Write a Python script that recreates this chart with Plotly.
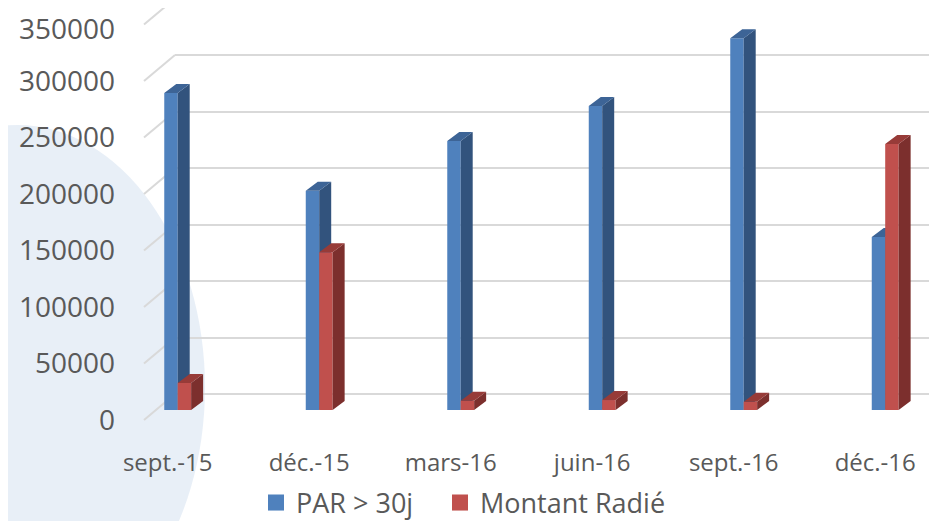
import plotly.graph_objects as go

# ---------------- data ----------------
categories = ["sept.-15", "déc.-15", "mars-16", "juin-16", "sept.-16", "déc.-16"]
par_30j = [280500, 194000, 238000, 269000, 329000, 153000]
montant_radie = [24000, 139500, 8200, 8800, 7300, 235500]
y_ticks = [0, 50000, 100000, 150000, 200000, 250000, 300000, 350000]

# ---------------- styling / geometry ----------------
OFF = 8                        # page body margin
W, H = 937 - OFF, 521 - OFF
FONT = "Open Sans"
TXT = "#595959"
K = 339 / 300000.0             # px per value unit
PX_PER_CAT = 141.5
BAR_CENTER0 = 177.7            # window px of first group centre
BAR_W = 0.095                  # front face width (category units)
DX = 12 / PX_PER_CAT           # depth offset, x
DY = 9 / K                     # depth offset, y (value units)

BLUE = dict(front="#4F81BD", side="#32537D", top="#3D6496")
RED = dict(front="#C0504D", side="#7C2F2D", top="#973B38")


def fx(X):
    return (X - OFF) / W


def fy(Y):
    return 1 - (Y - OFF) / H


def yrange(y0_px):
    return [-(H - (y0_px - OFF)) / K, (y0_px - OFF) / K]


xs = list(range(len(categories)))
low_ticks = y_ticks[:-1]
top_tick = y_ticks[-1:]

fig = go.Figure()

for yax in ("y", "y4", "y5"):
    fig.add_trace(go.Scatter(x=[None], y=[None], xaxis="x", yaxis=yax,
                             showlegend=False, hoverinfo="skip"))


def faces(values, offset):
    sx, sy, tx, ty = [], [], [], []
    for i, v in zip(xs, values):
        xl = i + offset
        xr = xl + BAR_W
        sx += [xr, xr + DX, xr + DX, xr, xr, None]
        sy += [0, DY, v + DY, v, 0, None]
        tx += [xl, xl + DX, xr + DX, xr, xl, None]
        ty += [v, v + DY, v + DY, v, v, None]
    return sx, sy, tx, ty


def add_series(values, offset, col, yax):
    fig.add_trace(go.Bar(x=xs, y=values, width=BAR_W, offset=offset,
                         marker=dict(color=col["front"], line=dict(width=0)),
                         xaxis="x2", yaxis=yax, showlegend=False))
    sx, sy, tx, ty = faces(values, offset)
    fig.add_trace(go.Scatter(x=sx, y=sy, mode="lines", fill="toself",
                             fillcolor=col["side"], line=dict(width=0, color=col["side"]),
                             xaxis="x2", yaxis=yax, showlegend=False, hoverinfo="skip"))
    fig.add_trace(go.Scatter(x=tx, y=ty, mode="lines", fill="toself",
                             fillcolor=col["top"], line=dict(width=0, color=col["top"]),
                             xaxis="x2", yaxis=yax, showlegend=False, hoverinfo="skip"))


add_series(par_30j, -BAR_W, BLUE, "y2")
add_series(montant_radie, 0, RED, "y3")

fig.add_trace(go.Scatter(x=[None], y=[None], mode="markers", name="PAR > 30j",
                         marker=dict(symbol="square", size=17, color=BLUE["front"]),
                         xaxis="x2", yaxis="y2", legend="legend"))
fig.add_trace(go.Scatter(x=[None], y=[None], mode="markers", name="Montant Radié",
                         marker=dict(symbol="square", size=17, color=RED["front"]),
                         xaxis="x2", yaxis="y2", legend="legend2"))

shapes = [dict(type="circle", xref="paper", yref="paper", layer="below",
               x0=fx(-170), x1=fx(205), y0=fy(650), y1=fy(125),
               fillcolor="rgba(190,210,232,0.35)", line=dict(width=0))]
for v in y_ticks:
    shapes.append(dict(type="line", layer="below",
                       xref="paper", xsizemode="pixel", xanchor=fx(144), x0=0, x1=31,
                       yref="y4", ysizemode="pixel", yanchor=v, y0=0, y1=26,
                       line=dict(color="#D9D9D9", width=2)))

rng_x_bar = [-(BAR_CENTER0 - OFF) / PX_PER_CAT, (W - (BAR_CENTER0 - OFF)) / PX_PER_CAT]

label_axis = dict(overlaying="y", anchor="x", automargin=False,
                  showgrid=False, zeroline=False, showline=False, ticks="",
                  tickfont=dict(size=28, color=TXT, family=FONT),
                  ticklabelstandoff=59, ticklabeloverflow="allow")

legend_style = dict(orientation="h", xanchor="left", yanchor="middle",
                    font=dict(size=27, color=TXT, family=FONT),
                    bgcolor="rgba(0,0,0,0)", itemclick=False, itemdoubleclick=False)

fig.update_layout(
    width=W, height=H,
    margin=dict(l=0, r=0, t=0, b=0, pad=0, autoexpand=False),
    paper_bgcolor="white", plot_bgcolor="rgba(0,0,0,0)",
    font=dict(family=FONT, color=TXT),
    barmode="overlay",
    hovermode=False,
    shapes=shapes,
    xaxis=dict(domain=[fx(175), fx(931)], range=[0, 1], visible=False, automargin=False),
    yaxis=dict(domain=[0, 1], anchor="x", range=yrange(394), automargin=False,
               tickvals=y_ticks, showticklabels=False,
               showgrid=True, gridcolor="#D9D9D9", gridwidth=2,
               zeroline=False, showline=False, ticks=""),
    yaxis4=dict(range=yrange(420), tickvals=low_ticks,
                ticktext=[str(v) for v in low_ticks], **label_axis),
    yaxis5=dict(range=yrange(425), tickvals=top_tick,
                ticktext=[str(v) for v in top_tick], **label_axis),
    xaxis2=dict(domain=[0, 1], anchor="free", position=fy(440), range=rng_x_bar,
                automargin=False,
                tickvals=xs, ticktext=categories, showgrid=False, zeroline=False,
                showline=False, ticks="", ticklabelshift=-10, ticklabelstandoff=6,
                tickfont=dict(size=24, color=TXT, family=FONT)),
    yaxis2=dict(domain=[0, 1], anchor="x2", range=yrange(410), visible=False, automargin=False),
    yaxis3=dict(overlaying="y2", anchor="x2", range=yrange(410), visible=False, automargin=False),
    legend=dict(x=fx(256), y=fy(503), **legend_style),
    legend2=dict(x=fx(440), y=fy(503), **legend_style),
)

fig.write_html("out.html")
